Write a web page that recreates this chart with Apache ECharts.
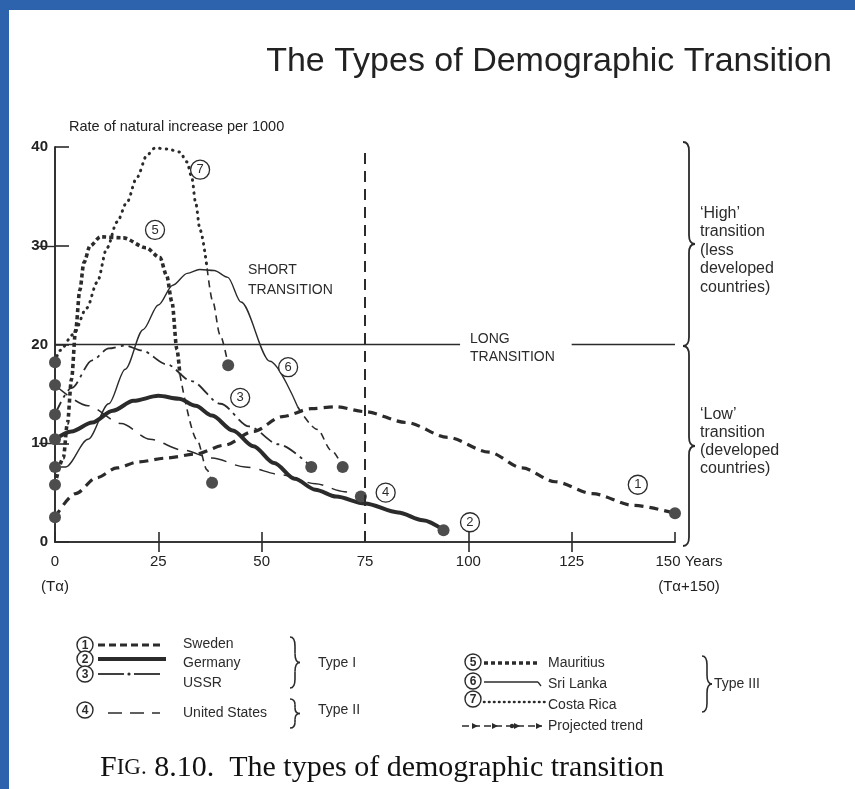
<!DOCTYPE html>
<html lang="en">
  <head>
    <meta charset="UTF-8" />
    <title>The Types of Demographic Transition</title>
    <script src="https://cdn.jsdelivr.net/npm/echarts@6.0.0/dist/echarts.min.js"></script>
  </head>
  <style>
    html,
    body {
      margin: 0;
      padding: 0;
      background: #fff;
    }
    #echart {
      width: 855px;
      height: 789px;
    }
  </style>
  <body>
    <div id="echart"></div>
  </body>
  <script>
    // years after the start of the transition (Ta) / rate of natural increase per 1000
    const xTicks = [0, 25, 50, 75, 100, 125, 150];
    const yTicks = [0, 10, 20, 30, 40];
    const shortLongBoundary = 75;
    const highLowBoundary = 20;

    const sweden = [[0, 2.5], [5, 4.9], [10, 6.5], [15, 7.5], [20, 8.1], [27, 8.5], [34, 8.9], [41, 9.8], [48, 11.2], [55, 12.7], [62, 13.5], [68, 13.7], [75, 13.2], [85, 12.1], [95, 10.6], [105, 9.1], [113, 7.5], [121, 6.1], [130, 4.9], [140, 3.7], [150, 2.9]];
    const germany = [[0, 10.4], [4, 11.2], [9, 12.1], [14, 13.3], [19, 14.3], [25, 14.8], [30, 14.5], [34, 13.8], [38, 12.8], [43, 11.3], [48, 9.7], [53, 8], [58, 6.4], [63, 5.3], [68, 4.6], [75, 3.9], [83, 3], [89, 2.2], [94, 1.2]];
    const ussr = [[0, 12.9], [4, 15.6], [9, 18.4], [13, 19.6], [17, 19.9], [21, 19.4], [27, 18], [33, 16.3], [40, 14], [47, 11.7], [54, 9.9], [62, 7.6]];
    const unitedStates = [[0, 15.9], [8, 13.8], [16, 12], [23, 10.4], [31, 9.3], [38, 8.5], [46, 7.6], [55, 6.8], [63, 5.9], [70, 5.1], [74, 4.6]];
    const mauritius = [[0, 5.8], [2, 8.5], [3, 12], [4, 16.5], [5, 21.5], [6, 25.5], [7, 28.3], [8.5, 30], [11, 30.9], [16.5, 30.8], [22, 29.8], [25.4, 28.8], [27, 27], [28.3, 24.3], [29.5, 19.5], [30.2, 17]];
    const mauritiusProjected = [[30.2, 17], [34.4, 10.3], [36.8, 7.3], [38, 6]];
    const sriLanka = [[0, 7.6], [2.6, 7.6], [8, 10.4], [13, 14], [17, 17.5], [21.3, 21.5], [25, 24], [28.5, 26], [32, 27.2], [35, 27.6], [38.5, 27.5], [41.8, 26.8], [45, 24.3], [52, 18.3], [58.7, 13.7]];
    const sriLankaProjected = [[58.7, 13.7], [63.5, 11.4], [66.8, 9.3], [69.6, 7.6]];
    const costaRica = [[0, 18.2], [1.2, 19.4], [4.4, 21], [7.7, 23.7], [10.2, 26.3], [12.6, 29.8], [15, 32.4], [17.4, 34.4], [19.8, 36.9], [22.3, 39.2], [24.2, 39.9], [27.1, 39.8], [30.2, 39.5], [31.9, 38.5], [33.1, 36.9], [34, 34.4], [35.1, 31.6], [36.8, 27.7]];
    const costaRicaProjected = [[36.8, 27.7], [38.2, 24.3], [39.9, 21], [41.9, 17.9]];

    const ink = "#2b2b2b";
    const dotColor = "#4d4d4d";
    const sans = "Liberation Sans";
    const serif = "Liberation Serif";

    const chart = echarts.init(document.getElementById("echart"));

    // dots only at the start and/or the end of a curve
    function withDots(points, startDot, endDot) {
      return points.map((p, i) => {
        const dot = (i === 0 && startDot) || (i === points.length - 1 && endDot);
        return { value: p, symbol: dot ? "circle" : "none" };
      });
    }

    function numberMark(n, coord) {
      return {
        symbol: "circle",
        symbolSize: 19,
        silent: true,
        itemStyle: { color: "#fff", borderColor: ink, borderWidth: 1.3 },
        label: { show: true, formatter: n, color: ink, fontSize: 13, fontFamily: sans },
        data: [{ coord: coord }],
      };
    }

    function curve(name, points, lineStyle, startDot, endDot, mark) {
      return {
        name: name,
        type: "line",
        smooth: 0.3,
        smoothMonotone: "x",
        symbolSize: 12,
        showSymbol: true,
        itemStyle: { color: dotColor },
        lineStyle: Object.assign({ color: ink }, lineStyle),
        data: withDots(points, startDot, endDot),
        markPoint: mark,
        z: 3,
      };
    }

    const projectedStyle = { width: 1.6, type: [7, 5] };

    // brace opening to the left, tip pointing right, built from quadratic curves and lines
    function brace(x0, y1, y2, w, lw) {
      const ym = (y1 + y2) / 2;
      const xm = x0 + w / 2;
      const r = Math.min(9, (y2 - y1) / 5);
      const style = { stroke: ink, lineWidth: lw, fill: null };
      const q = (a, b, c, d, e, f) => ({
        type: "bezierCurve",
        shape: { x1: a, y1: b, cpx1: c, cpy1: d, x2: e, y2: f },
        style: style,
        silent: true,
      });
      const l = (a, b, c, d) => ({
        type: "line",
        shape: { x1: a, y1: b, x2: c, y2: d },
        style: style,
        silent: true,
      });
      return [
        q(x0, y1, xm, y1, xm, y1 + r),
        l(xm, y1 + r, xm, ym - r),
        q(xm, ym - r, xm, ym, x0 + w, ym),
        q(x0 + w, ym, xm, ym, xm, ym + r),
        l(xm, ym + r, xm, y2 - r),
        q(xm, y2 - r, xm, y2, x0, y2),
      ];
    }
    function text(x, y, str, font, extra) {
      return {
        type: "text",
        x: x,
        y: y,
        silent: true,
        style: Object.assign(
          { text: str, font: font, fill: ink, textVerticalAlign: "middle" },
          extra || {}
        ),
      };
    }
    function circled(x, y, n) {
      return [
        {
          type: "circle",
          shape: { cx: x, cy: y, r: 8 },
          style: { fill: "#fff", stroke: ink, lineWidth: 1.4 },
          silent: true,
        },
        text(x, y + 0.5, n, "bold 12px " + sans, { textAlign: "center" }),
      ];
    }
    function sample(x1, x2, y, lw, dash) {
      return {
        type: "line",
        shape: { x1: x1, y1: y, x2: x2, y2: y },
        style: { stroke: ink, lineWidth: lw, lineDash: dash || null },
        silent: true,
      };
    }
    function arrowHead(x, y) {
      return {
        type: "polygon",
        shape: { points: [[x, y - 3], [x + 6, y], [x, y + 3]] },
        style: { fill: ink },
        silent: true,
      };
    }

    const legendFont = "14px " + sans;

    const graphics = [
      // slide frame
      { type: "rect", shape: { x: 0, y: 0, width: 9, height: 789 }, style: { fill: "#2d63ad" }, silent: true },
      { type: "rect", shape: { x: 0, y: 0, width: 855, height: 10 }, style: { fill: "#2d63ad" }, silent: true },
      text(549, 62, "The Types of Demographic Transition", "34px " + sans, { textAlign: "center", fill: "#222" }),

      text(248, 260, "SHORT\nTRANSITION", "14px " + sans, { lineHeight: 20, textVerticalAlign: "top" }),
      text(470, 330, "LONG\nTRANSITION", "14px " + sans, { lineHeight: 18, textVerticalAlign: "top" }),

      // right-hand braces
      ...brace(683, 142, 346, 12, 1.8),
      ...brace(683, 346, 546, 12, 1.8),
      text(700, 204, "\u2018High\u2019\ntransition\n(less\ndeveloped\ncountries)", "16px " + sans, { lineHeight: 18.5, textVerticalAlign: "top" }),
      text(700, 406, "\u2018Low\u2019\ntransition\n(developed\ncountries)", "16px " + sans, { lineHeight: 18, textVerticalAlign: "top" }),

      // key, left block
      ...circled(85, 645, "1"),
      ...circled(85, 659, "2"),
      ...circled(85, 674, "3"),
      ...circled(85, 710, "4"),
      sample(98, 160, 645, 3, [7, 4]),
      sample(98, 166, 659, 4),
      sample(98, 124, 674, 1.8),
      { type: "circle", shape: { cx: 129, cy: 674, r: 1.6 }, style: { fill: ink }, silent: true },
      sample(134, 160, 674, 1.8),
      sample(108, 160, 713, 1.5, [14, 8]),
      text(183, 644, "Sweden", legendFont),
      text(183, 663, "Germany", legendFont),
      text(183, 683, "USSR", legendFont),
      text(183, 713, "United States", legendFont),
      ...brace(290, 637, 688, 10, 1.6),
      text(318, 663, "Type I", legendFont),
      ...brace(290, 699, 728, 10, 1.6),
      text(318, 710, "Type II", legendFont),

      // key, right block
      ...circled(473, 662, "5"),
      ...circled(473, 681, "6"),
      ...circled(473, 699, "7"),
      sample(484, 540, 663, 3.4, [4, 3]),
      sample(484, 538, 682, 1.3),
      { type: "line", shape: { x1: 538, y1: 682, x2: 541, y2: 686 }, style: { stroke: ink, lineWidth: 1.3 }, silent: true },
      { type: "line", shape: { x1: 484, y1: 702, x2: 546, y2: 702 }, style: { stroke: ink, lineWidth: 2.6, lineDash: [0.5, 4.5], lineCap: "round" }, silent: true },
      sample(462, 542, 726, 1.5, [7, 4]),
      arrowHead(472, 726),
      arrowHead(492, 726),
      arrowHead(514, 726),
      arrowHead(536, 726),
      { type: "circle", shape: { cx: 512, cy: 726, r: 2.2 }, style: { fill: ink }, silent: true },
      text(548, 663, "Mauritius", legendFont),
      text(548, 684, "Sri Lanka", legendFont),
      text(548, 705, "Costa Rica", legendFont),
      text(548, 726, "Projected trend", legendFont),
      ...brace(702, 656, 712, 10, 1.6),
      text(714, 684, "Type III", legendFont),

      // figure caption
      {
        type: "text",
        x: 100,
        y: 768,
        silent: true,
        style: {
          text: "{a|F}{b|IG.}{a| 8.10.  The types of demographic transition}",
          textVerticalAlign: "middle",
          rich: {
            a: { font: "30px " + serif, fill: "#111" },
            b: { font: "23px " + serif, fill: "#111" },
          },
        },
      },
    ];

    var option = {
      backgroundColor: "#fff",
      animation: false,
      grid: {
        left: 55,
        right: 180,
        top: 147,
        bottom: 247,
        containLabel: false,
        outerBoundsMode: "none",
      },
      xAxis: [
        {
          type: "value",
          min: xTicks[0],
          max: xTicks[xTicks.length - 1],
          interval: 25,
          position: "bottom",
          splitLine: { show: false },
          axisLine: { lineStyle: { color: ink, width: 1.6 } },
          axisTick: { inside: true, length: 10, lineStyle: { color: ink, width: 1.6 } },
          axisLabel: {
            margin: 7,
            color: "#222",
            fontSize: 15,
            fontFamily: sans,
            lineHeight: 25,
            verticalAlign: "top",
            formatter: function (v) {
              if (v === 0) return "0\n(T\u03b1)";
              if (v === 150) return "{end|150 Years}\n{end|(T\u03b1+150)}";
              return String(v);
            },
            rich: {
              end: { padding: [0, 0, 0, 28], fontSize: 15, lineHeight: 25, color: "#222", fontFamily: sans },
            },
          },
        },
        {
          type: "value",
          min: xTicks[0],
          max: xTicks[xTicks.length - 1],
          interval: 25,
          position: "top",
          splitLine: { show: false },
          axisLine: { lineStyle: { color: ink, width: 1.6 } },
          axisTick: { inside: true, length: 10, customValues: [25, 50, 100, 125], lineStyle: { color: ink, width: 1.6 } },
          axisLabel: { show: false },
        },
      ],
      yAxis: [
        {
          type: "value",
          min: yTicks[0],
          max: yTicks[yTicks.length - 1],
          interval: 10,
          position: "left",
          name: "Rate of natural increase per 1000",
          nameLocation: "end",
          nameGap: 20,
          nameTextStyle: { align: "left", verticalAlign: "middle", padding: [0, 0, 0, 14], fontSize: 14.5, color: "#222", fontFamily: sans },
          splitLine: { show: false },
          axisLine: { show: true, lineStyle: { color: ink, width: 1.6 } },
          axisTick: { show: true, inside: true, length: 14, lineStyle: { color: ink, width: 1.6 } },
          axisLabel: { margin: 7, color: "#222", fontSize: 15, fontWeight: "bold", fontFamily: sans },
        },
        {
          type: "value",
          min: yTicks[0],
          max: yTicks[yTicks.length - 1],
          interval: 10,
          position: "right",
          splitLine: { show: false },
          axisLine: { show: true, lineStyle: { color: ink, width: 1.6 } },
          axisTick: { show: true, inside: true, length: 16, customValues: [10, 30], lineStyle: { color: ink, width: 1.4 } },
          axisLabel: { show: false },
        },
      ],
      graphic: graphics,
      series: [
        Object.assign(
          curve("Sweden", sweden, { width: 3.2, type: [9, 6] }, true, true, numberMark("1", [141, 5.8])),
          {
            markLine: {
              silent: true,
              symbol: ["none", "none"],
              label: { show: false },
              data: [
                [
                  { coord: [0, highLowBoundary], lineStyle: { color: ink, width: 1.3, type: "solid" } },
                  { coord: [98, highLowBoundary] },
                ],
                [
                  { coord: [125, highLowBoundary], lineStyle: { color: ink, width: 1.3, type: "solid" } },
                  { coord: [150, highLowBoundary] },
                ],
                [
                  { coord: [shortLongBoundary, 0], lineStyle: { color: ink, width: 2, type: [11, 7] } },
                  { coord: [shortLongBoundary, 40] },
                ],
              ],
            },
          }
        ),
        curve("Germany", germany, { width: 4 }, true, true, numberMark("2", [100.4, 2])),
        curve("USSR", ussr, { width: 1.8, type: [14, 5, 3, 5] }, true, true, numberMark("3", [44.8, 14.6])),
        curve("United States", unitedStates, { width: 1.5, type: [16, 9] }, true, true, numberMark("4", [80, 5])),
        curve("Mauritius", mauritius, { width: 3.6, type: [4, 3] }, true, false, numberMark("5", [24.2, 31.6])),
        curve("Mauritius projected", mauritiusProjected, projectedStyle, false, true),
        curve("Sri Lanka", sriLanka, { width: 1.4 }, true, false, numberMark("6", [56.4, 17.7])),
        curve("Sri Lanka projected", sriLankaProjected, projectedStyle, false, true),
        curve("Costa Rica", costaRica, { width: 3, type: [0.5, 6], cap: "round" }, true, false, numberMark("7", [35.1, 37.7])),
        curve("Costa Rica projected", costaRicaProjected, projectedStyle, false, true),
      ],
    };

    chart.setOption(option);
  </script>
</html>
